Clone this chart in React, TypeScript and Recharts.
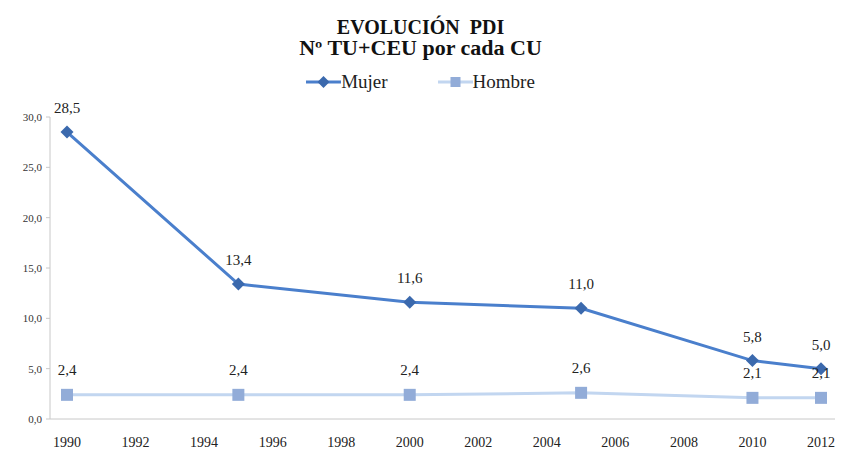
import React from 'react';
import { LineChart, Line, XAxis, YAxis, LabelList } from 'recharts';

const years = [1990, 1995, 2000, 2005, 2010, 2012];
const mujer = [28.5, 13.4, 11.6, 11.0, 5.8, 5.0];
const hombre = [2.4, 2.4, 2.4, 2.6, 2.1, 2.1];
const xTicks = [1990, 1992, 1994, 1996, 1998, 2000, 2002, 2004, 2006, 2008, 2010, 2012];
const yTicks = [0, 5, 10, 15, 20, 25, 30];

const data = years.map((y, i) => ({ year: y, Mujer: mujer[i], Hombre: hombre[i] }));

const FONT = "'Liberation Serif', 'DejaVu Serif', serif";
const MUJER_LINE = '#4a7fcc';
const MUJER_DOT = '#3b69ad';
const HOMBRE_LINE = '#c2d6f0';
const HOMBRE_DOT = '#92acd8';

const fmt = (v: number) => v.toFixed(1).replace('.', ',');

const Diamond = (props: any) => {
  const { cx, cy } = props;
  if (cx == null || cy == null) return null;
  const r = 6.5;
  return <path d={`M${cx},${cy - r}L${cx + r},${cy}L${cx},${cy + r}L${cx - r},${cy}Z`} fill={MUJER_DOT} />;
};

const Square = (props: any) => {
  const { cx, cy } = props;
  if (cx == null || cy == null) return null;
  const s = 6;
  return <rect x={cx - s} y={cy - s} width={s * 2} height={s * 2} fill={HOMBRE_DOT} />;
};

const XTick = (props: any) => {
  const { x, y, payload } = props;
  return (
    <text x={x} y={y + 14} textAnchor="middle" style={{ fontFamily: FONT, fontSize: 14, fill: '#222' }}>
      {payload.value}
    </text>
  );
};

const YTick = (props: any) => {
  const { x, y, payload } = props;
  return (
    <text x={x - 2} y={y + 4} textAnchor="end" style={{ fontFamily: FONT, fontSize: 11, fill: '#333' }}>
      {fmt(payload.value)}
    </text>
  );
};

const LegendContent = () => (
  <div style={{ display: 'flex', justifyContent: 'center', fontFamily: FONT, fontSize: 19, color: '#222', lineHeight: '20px' }}>
    <div style={{ display: 'flex', alignItems: 'center', marginRight: 50 }}>
      <svg width={35} height={14}>
        <line x1={0} y1={7} x2={35} y2={7} stroke={MUJER_LINE} strokeWidth={3} />
        <path d="M17.5,1L23.5,7L17.5,13L11.5,7Z" fill={MUJER_DOT} />
      </svg>
      <span>Mujer</span>
    </div>
    <div style={{ display: 'flex', alignItems: 'center' }}>
      <svg width={35} height={14}>
        <line x1={0} y1={7} x2={35} y2={7} stroke={HOMBRE_LINE} strokeWidth={3} />
        <rect x={12.5} y={2} width={10} height={10} fill={HOMBRE_DOT} />
      </svg>
      <span>Hombre</span>
    </div>
  </div>
);

export default function App() {
  return (
    <div style={{ position: 'absolute', left: 0, top: 0, width: 841, height: 450, background: '#fff', fontFamily: FONT }}>
      <div style={{ position: 'absolute', left: 0, top: 17, width: 841, textAlign: 'center', fontFamily: FONT, fontWeight: 'bold', fontSize: 20, lineHeight: '21px', color: '#111' }}>
        <div>EVOLUCIÓN&nbsp;&nbsp;PDI</div>
        <div style={{ transform: 'scaleX(1.1)' }}>Nº TU+CEU por cada CU</div>
      </div>
      <div style={{ position: 'absolute', left: 0, top: 72, width: 841 }}>
        <LegendContent />
      </div>
      <div style={{ position: 'absolute', left: 0, top: 0 }}>
        <LineChart width={841} height={450} data={data} margin={{ top: 117, right: 6, bottom: 5, left: 0 }} style={{ fontFamily: FONT }}>
          <XAxis
            dataKey="year"
            type="number"
            domain={[1990, 2012]}
            ticks={xTicks}
            padding={{ left: 17, right: 14 }}
            tickLine={false}
            axisLine={{ stroke: '#c8c8c8' }}
            tick={<XTick />}
            tickMargin={8}
            height={26}
            interval={0}
          />
          <YAxis
            type="number"
            domain={[0, 30]}
            ticks={yTicks}
            width={50}
            axisLine={{ stroke: '#c8c8c8' }}
            tickLine={{ stroke: '#c8c8c8' }}
            tickSize={4}
            tick={<YTick />}
            interval={0}
          />
          <Line dataKey="Hombre" stroke={HOMBRE_LINE} strokeWidth={3} dot={<Square />} activeDot={false} isAnimationActive={false}>
            <LabelList dataKey="Hombre" position="top" offset={20} formatter={(v: any) => fmt(Number(v))} style={{ fontFamily: FONT, fontSize: 15, fill: '#222' }} />
          </Line>
          <Line dataKey="Mujer" stroke={MUJER_LINE} strokeWidth={3} dot={<Diamond />} activeDot={false} isAnimationActive={false}>
            <LabelList dataKey="Mujer" position="top" offset={19} formatter={(v: any) => fmt(Number(v))} style={{ fontFamily: FONT, fontSize: 15, fill: '#222' }} />
          </Line>
        </LineChart>
      </div>
    </div>
  );
}
